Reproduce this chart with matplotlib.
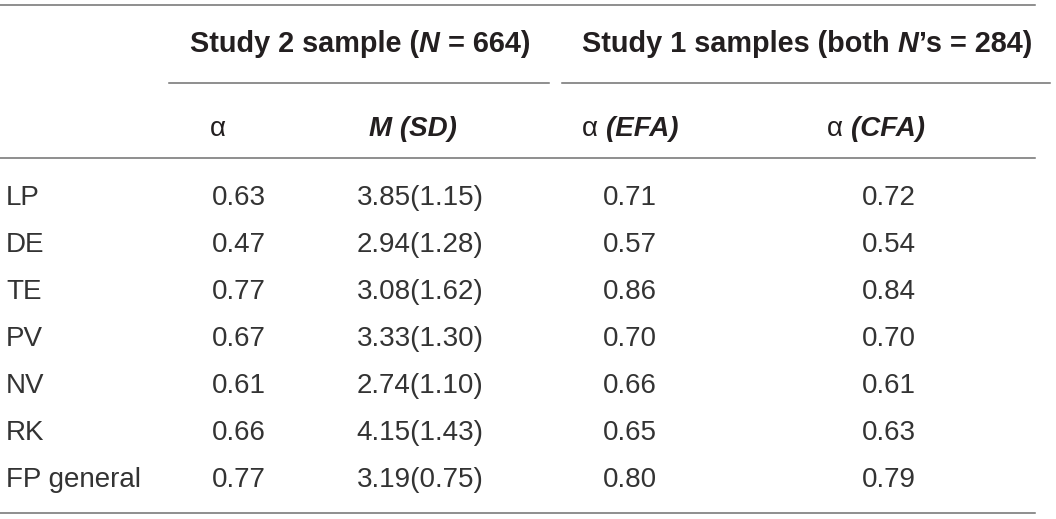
import matplotlib
matplotlib.use("Agg")
import matplotlib.pyplot as plt

# table contents
labels = ["LP", "DE", "TE", "PV", "NV", "RK", "FP general"]
alpha_s2 = [0.63, 0.47, 0.77, 0.67, 0.61, 0.66, 0.77]
mean_s2 = [3.85, 2.94, 3.08, 3.33, 2.74, 4.15, 3.19]
sd_s2 = [1.15, 1.28, 1.62, 1.30, 1.10, 1.43, 0.75]
alpha_efa = [0.71, 0.57, 0.86, 0.70, 0.66, 0.65, 0.80]
alpha_cfa = [0.72, 0.54, 0.84, 0.70, 0.61, 0.63, 0.79]

FONT = "Liberation Sans"
FS = 20
TXT = "#231f20"
DATA = "#333333"
LINE = "#707070"

fig = plt.figure(figsize=(10.56, 5.19), dpi=100)
ax = fig.add_axes([0, 0, 1, 1])
ax.set_xlim(0, 1056)
ax.set_ylim(519, 0)
ax.axis("off")
renderer = fig.canvas.get_renderer()


def runs(x, y, parts, ha="center", fs=FS):
    # parts: list of (text, weight, style); drawn side by side on one baseline
    objs = []
    for s, w, st in parts:
        t = ax.text(0, y, s, fontsize=fs, family=FONT, fontweight=w,
                    fontstyle=st, color=TXT, ha="left", va="baseline")
        objs.append(t)
    widths = [t.get_window_extent(renderer).width for t in objs]
    total = sum(widths)
    x0 = x - total / 2 if ha == "center" else x
    for t, w in zip(objs, widths):
        t.set_x(x0)
        x0 += w


# rules
ax.plot([0, 1035], [5, 5], color=LINE, lw=1.1)
ax.plot([169, 549], [82.5, 82.5], color=LINE, lw=1.1)
ax.plot([562, 1050], [82.5, 82.5], color=LINE, lw=1.1)
ax.plot([0, 1035], [158, 158], color=LINE, lw=1.1)
ax.plot([0, 1035], [513, 513], color=LINE, lw=1.1)

# group headers
runs(360, 52, [("Study 2 sample (", "bold", "normal"),
               ("N", "bold", "italic"),
               (" = 664)", "bold", "normal")], fs=20.8)
runs(807, 52, [("Study 1 samples (both ", "bold", "normal"),
               ("N", "bold", "italic"),
               ("\u2019s = 284)", "bold", "normal")], fs=20.8)

# column headers
runs(210, 136, [("\u03b1", "normal", "normal")], ha="left")
runs(413, 136, [("M (SD)", "bold", "italic")])
runs(630, 136, [("\u03b1 ", "normal", "normal"), ("(EFA)", "bold", "italic")])
runs(876, 136, [("\u03b1 ", "normal", "normal"), ("(CFA)", "bold", "italic")])

# body
for i, lab in enumerate(labels):
    yb = 205 + 47 * i
    kw = dict(fontsize=FS, family=FONT, color=DATA, va="baseline")
    ax.text(6, yb, lab, ha="left", **kw)
    ax.text(212, yb, "{:.2f}".format(alpha_s2[i]), ha="left", **kw)
    ax.text(420, yb, "{:.2f}({:.2f})".format(mean_s2[i], sd_s2[i]), ha="center", **kw)
    ax.text(630, yb, "{:.2f}".format(alpha_efa[i]), ha="center", **kw)
    ax.text(889, yb, "{:.2f}".format(alpha_cfa[i]), ha="center", **kw)

fig.savefig("out.png", dpi=100, facecolor="white")
